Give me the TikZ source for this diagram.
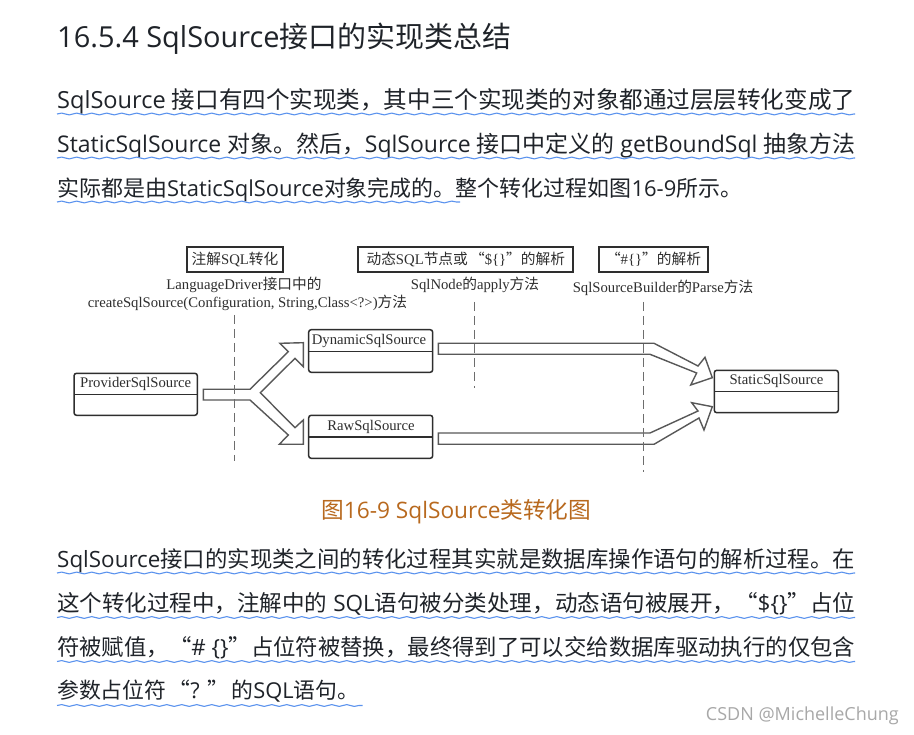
\documentclass[tikz,border=0pt]{standalone}
\usepackage{graphicx}
\usepackage{fontspec}
\setmainfont{Open Sans}
\newfontfamily\cjk{Noto Sans CJK SC}
\newfontfamily\serifl{Liberation Serif}
\usetikzlibrary{decorations.pathmorphing}
\definecolor{inkc}{HTML}{1F2329}
\definecolor{wavec}{HTML}{5B93EE}
\definecolor{capc}{HTML}{B8691E}
\definecolor{diag}{HTML}{2E2E2E}
\definecolor{markc}{HTML}{A8A8A8}
\newcommand{\zh}[1]{{\cjk #1}}
\newcommand{\fitw}[2]{\resizebox{#1pt}{!}{\strut #2}}
\tikzset{
  line/.style={anchor=west,inner sep=0pt,text=inkc,font=\fontsize{23}{23}\selectfont},
  wave/.style={draw=wavec,line width=1.1pt,decorate,decoration={snake,amplitude=0.9pt,segment length=15pt}},
  header/.style={draw=diag,line width=1.8pt,inner sep=0pt,minimum height=25.5pt,text=diag,font=\fontsize{14.7}{15}\selectfont},
  dtext/.style={inner sep=0pt,text=diag,font=\fontsize{14.7}{15}\serifl},
  cls/.style={draw=diag,line width=1.5pt,rounded corners=2.5pt,inner sep=0pt},
  ctitle/.style={inner sep=0pt,text=diag,font=\fontsize{14.7}{15}\serifl},
  sep/.style={draw=diag,line width=1.4pt},
  guide/.style={draw=diag!70,line width=1.4pt,dash pattern=on 9pt off 5pt},
  block/.style={draw=diag!80,line width=1.4pt,fill=white,line join=miter,miter limit=3},
}
\begin{document}
\begin{tikzpicture}[x=1pt,y=-1pt]
\useasboundingbox (0,0) rectangle (914,735);
\fill[white] (0,0) rectangle (914,735);

% heading and upper paragraph
\node[line] (title) at (57,38.5) {\fitw{454}{\fontsize{28}{28}\selectfont 16.5.4 SqlSource\zh{接口的实现类总结}}};
\node[line] (p1) at (57,102) {\fitw{798}{SqlSource \zh{接口有四个实现类，其中三个实现类的对象都通过层层转化变成了}}};
\node[line] (p2) at (57,146) {\fitw{798}{StaticSqlSource \zh{对象。然后，}SqlSource \zh{接口中定义的} getBoundSql \zh{抽象方法}}};
\node[line] (p3) at (57,190) {\fitw{685}{\zh{实际都是由}StaticSqlSource\zh{对象完成的。整个转化过程如图}16-9\zh{所示。}}};
\draw[wave] (57,114) -- (855,114);
\draw[wave] (57,158) -- (855,158);
\draw[wave] (57,202) -- (460,202);

% diagram headers
\node[header,minimum width=95.5pt] (h1) at (235,259.5) {\zh{注解}\serifl SQL\cjk{}\zh{转化}};
\node[header,minimum width=215pt] (h2) at (465.8,259.5) {\zh{动态}\serifl SQL\cjk{}\zh{节点或\hspace{0.15em}“}{\serifl\$\{\}}\zh{”的解析}};
\node[header,minimum width=109pt] (h3) at (653.5,259.5) {\zh{“}{\serifl\#\{\}}\zh{”的解析}};
\node[dtext] (t1a) at (244,284.5) {LanguageDriver\zh{接口中的}};
\node[dtext] (t1b) at (247.5,303) {createSqlSource(Configuration, String,Class<?>)\zh{方法}};
\node[dtext] (t2) at (475,285) {SqlNode\zh{的}apply\zh{方法}};
\node[dtext] (t3) at (663,288) {SqlSourceBuilder\zh{的}Parse\zh{方法}};

% dashed guides
\coordinate (g1a) at (234.5,315); \coordinate (g1b) at (234.5,461);
\coordinate (g2a) at (474.5,302); \coordinate (g2b) at (474.5,388);
\coordinate (g3a) at (643.5,302);   \coordinate (g3b) at (643.5,472);

% block arrows
\draw[block] (203.3,389.3) -- (250,389.3) -- (288.3,351.7) -- (280,343.3) -- (303.3,342.7) -- (303.3,366.7) -- (295,358.3) -- (260.3,392.7) -- (295,427.7) -- (303.3,420) -- (303.3,444.3) -- (279.3,444.3) -- (288.3,435) -- (250,400) -- (203.3,400) -- cycle;
\draw[block] (438.3,343.3) -- (654,343.3) -- (698,366) -- (705,357.3) -- (712.3,377.7) -- (690.7,385) -- (696.7,373) -- (650,354.3) -- (438.3,354.3) -- cycle;
\draw[block] (438.3,433) -- (650,433) -- (698,411) -- (691.7,402.7) -- (712.3,406.7) -- (704,430) -- (699,418) -- (654,444.3) -- (438.3,444.3) -- cycle;

\draw[guide] (g1a) -- (g1b);
\draw[guide] (g2a) -- (g2b);
\draw[guide] (g3a) -- (g3b);

% classes
\node[cls,minimum width=123.3pt,minimum height=42pt] (prov) at (135.7,394.3) {};
\draw[sep] (74,394.7) -- (197.3,394.7);
\node[ctitle] (provt) at (135.7,384) {ProviderSqlSource};
\node[cls,minimum width=124pt,minimum height=42.6pt] (dyn) at (370.7,351) {};
\draw[sep] (308.7,351.3) -- (432.7,351.3);
\node[ctitle] (dynt) at (369,340.5) {DynamicSqlSource};
\node[cls,minimum width=124pt,minimum height=43pt] (raw) at (370.7,436.8) {};
\draw[sep] (308.7,437) -- (432.7,437);
\node[ctitle] (rawt) at (371,427) {RawSqlSource};
\node[cls,minimum width=124pt,minimum height=42.4pt] (stat) at (776.3,391.5) {};
\draw[sep] (714.3,391.7) -- (838.3,391.7);
\node[ctitle] (statt) at (776.5,381) {StaticSqlSource};

% caption
\node[line,text=capc] (cap) at (321,512) {\fitw{270}{\zh{图}16-9 SqlSource\zh{类转化图}}};

% lower paragraph
\node[line] (q1) at (57,561) {\fitw{798}{SqlSource\zh{接口的实现类之间的转化过程其实就是数据库操作语句的解析过程。在}}};
\node[line] (q2) at (57,605) {\fitw{798}{\zh{这个转化过程中，注解中的} SQL\zh{语句被分类处理，动态语句被展开，“}\$\{\}\zh{”占位}}};
\node[line] (q3) at (57,649) {\fitw{798}{\zh{符被赋值，“}\# \{\}\zh{”占位符被替换，最终得到了可以交给数据库驱动执行的仅包含}}};
\node[line] (q4) at (57,693) {\fitw{302}{\zh{参数占位符\hspace{0.1em}“}? \zh{”\hspace{0.1em}的}SQL\zh{语句。}}};
\draw[wave] (57,573) -- (855,573);
\draw[wave] (57,617.5) -- (855,617.5);
\draw[wave] (57,661.5) -- (855,661.5);
\draw[wave] (57,705.5) -- (362.7,705.5);

% watermark
\node[inner sep=0pt,anchor=east,text=markc,font=\fontsize{18}{18}\selectfont] (wm) at (899,716) {CSDN @MichelleChung};
\end{tikzpicture}
\end{document}
